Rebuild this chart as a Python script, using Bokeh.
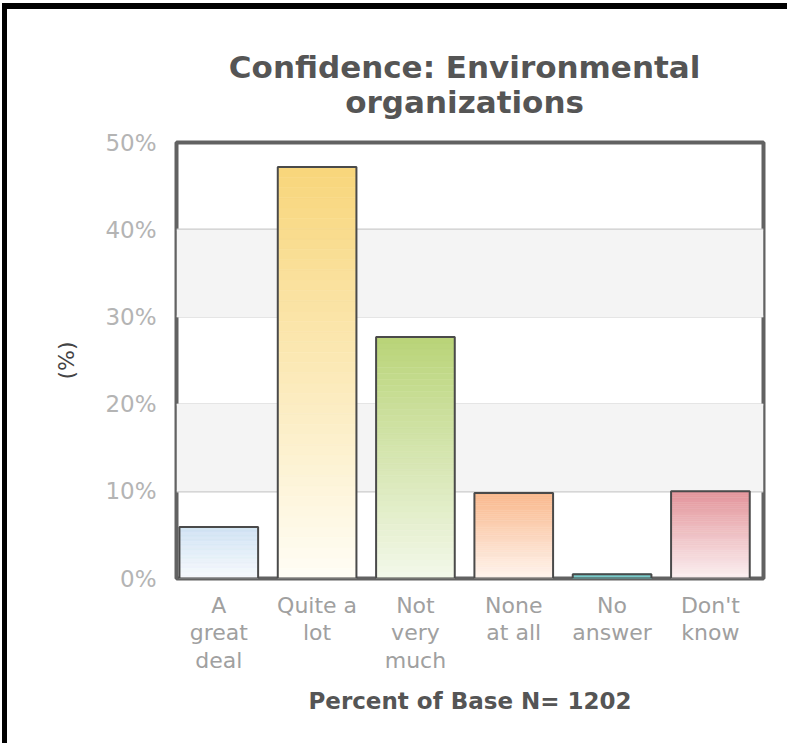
from bokeh.plotting import figure
from bokeh.models import Range1d, FixedTicker, LinearAxis, BoxAnnotation
from bokeh.embed import file_html
from bokeh.resources import INLINE

# ---- data ----
categories = ["A great deal", "Quite a lot", "Not very much", "None at all", "No answer", "Don't know"]
tick_labels = ["A\ngreat\ndeal", "Quite a\nlot", "Not\nvery\nmuch", "None\nat all", "No\nanswer", "Don't\nknow"]
values = [5.9, 47.2, 27.7, 9.8, 0.5, 10.0]
top_colors = ["#cfe2f3", "#f8d67a", "#b9d478", "#f9b88c", "#7ecdcb", "#e3949a"]
bottom_colors = ["#f7fafd", "#fffdf6", "#f3f8ea", "#fff5ef", "#7ecdcb", "#fbf0f1"]
y_ticks = [0, 10, 20, 30, 40, 50]
y_tick_labels = ["0%", "10%", "20%", "30%", "40%", "50%"]
title_lines = ["Confidence: Environmental", "organizations"]
x_title = "Percent of Base N= 1202"
y_title = "(%)"

BAR_W = 0.8
N_STRIPS = 40


def hex_to_rgb(h):
    h = h.lstrip("#")
    return tuple(int(h[i:i + 2], 16) for i in (0, 2, 4))


def mix(c1, c2, t):
    a, b = hex_to_rgb(c1), hex_to_rgb(c2)
    return "#%02x%02x%02x" % tuple(int(round(a[i] + (b[i] - a[i]) * t)) for i in range(3))


p = figure(width=785, height=740,
           x_range=Range1d(-0.43, 5.54), y_range=Range1d(0, y_ticks[-1]),
           output_backend="svg", toolbar_location=None,
           min_border_left=169, min_border_right=29,
           min_border_top=133, min_border_bottom=171)
p.styles = {"margin-left": "2px", "margin-top": "3px",
            "border-left": "5px solid black", "border-top": "6px solid black"}
p.background_fill_color = "white"
p.border_fill_color = "white"
p.outline_line_color = "#626262"
p.outline_line_width = 4

# alternating bands
for i in range(len(y_ticks) - 1):
    if i % 2 == 1:
        p.add_layout(BoxAnnotation(bottom=y_ticks[i], top=y_ticks[i + 1],
                                   fill_color="#f4f4f4", fill_alpha=1.0,
                                   line_color=None, level="underlay"))

# gradient bars
xs = list(range(len(categories)))
for i, v in enumerate(values):
    lefts, rights, bottoms, tops, cols = [], [], [], [], []
    for k in range(N_STRIPS):
        lefts.append(xs[i] - BAR_W / 2)
        rights.append(xs[i] + BAR_W / 2)
        bottoms.append(v * k / N_STRIPS)
        tops.append(v * (k + 1) / N_STRIPS)
        cols.append(mix(bottom_colors[i], top_colors[i], (k + 0.5) / N_STRIPS))
    p.quad(left=lefts, right=rights, bottom=bottoms, top=tops,
           fill_color=cols, line_color=cols, line_width=0.5)
p.vbar(x=xs, top=values, width=BAR_W, bottom=0, fill_color=None,
       line_color="#4a4a4a", line_width=2)

# grid
p.xgrid.visible = False
p.ygrid.ticker = FixedTicker(ticks=y_ticks)
p.ygrid.grid_line_color = "#cccccc"
p.ygrid.grid_line_width = 2

# y axis
ya = p.yaxis[0]
ya.ticker = FixedTicker(ticks=y_ticks)
ya.major_label_overrides = {t: l for t, l in zip(y_ticks, y_tick_labels)}
ya.axis_line_color = None
ya.major_tick_line_color = None
ya.minor_tick_line_color = None
ya.major_label_text_font = "DejaVu Sans"
ya.major_label_text_font_size = "23px"
ya.major_label_text_color = "#b4b4b4"
ya.major_label_standoff = 14
ya.axis_label = y_title
ya.axis_label_text_font = "DejaVu Sans"
ya.axis_label_text_font_style = "normal"
ya.axis_label_text_font_size = "22px"
ya.axis_label_text_color = "#444444"
ya.axis_label_standoff = 23

# x axis
xa = p.xaxis[0]
xa.ticker = FixedTicker(ticks=xs)
xa.major_label_overrides = {x: l for x, l in zip(xs, tick_labels)}
xa.axis_line_color = None
xa.major_tick_line_color = None
xa.minor_tick_line_color = None
xa.major_label_text_font = "DejaVu Sans"
xa.major_label_text_font_size = "22px"
xa.major_label_text_color = "#a0a0a0"
xa.major_label_text_line_height = 1.1
xa.major_label_standoff = 8
xa.axis_label = x_title
xa.axis_label_text_font = "DejaVu Sans"
xa.axis_label_text_font_style = "bold"
xa.axis_label_text_font_size = "23px"
xa.axis_label_text_color = "#555555"
xa.axis_label_standoff = 12

# two-line centred title, drawn as tick labels of two bare axes above the frame
title_x = sum(xs) / len(xs)
for line, so in zip(reversed(title_lines), [23, -4]):
    ta = LinearAxis(ticker=FixedTicker(ticks=[title_x]),
                    major_label_overrides={title_x: line},
                    axis_line_color=None, major_tick_line_color=None,
                    minor_tick_line_color=None, major_tick_out=0, major_tick_in=0,
                    major_label_standoff=so,
                    major_label_text_font="DejaVu Sans",
                    major_label_text_font_style="bold",
                    major_label_text_font_size="31px",
                    major_label_text_line_height=0.85,
                    major_label_text_color="#555555")
    p.add_layout(ta, "above")

open("out.html", "w").write(file_html(p, INLINE))
